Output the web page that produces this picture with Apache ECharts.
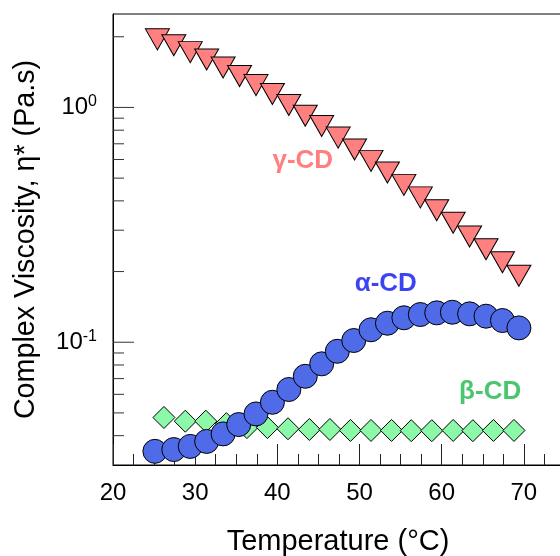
<!DOCTYPE html>
<html>
<head>
<meta charset="utf-8">
<script src="https://cdn.jsdelivr.net/npm/echarts@6/dist/echarts.min.js"></script>
<style>
html,body{margin:0;padding:0;overflow:hidden;background:#fff;width:560px;height:556px;}
#chart{width:606px;height:556px;}
</style>
</head>
<body>
<div id="chart"></div>
<script>
// ---- data ----
const gammaT = [25.4,27.4,29.4,31.4,33.4,35.4,37.4,39.4,41.4,43.4,45.4,47.4,49.4,51.4,53.4,55.4,57.4,59.4,61.4,63.4,65.4,67.4,69.4];
const gammaEta = [1.95,1.84,1.72,1.60,1.48,1.36,1.245,1.14,1.025,0.922,0.834,0.744,0.662,0.592,0.528,0.468,0.414,0.365,0.323,0.282,0.249,0.219,0.192];

const alphaT = [25.1,27.4,29.4,31.4,33.4,35.3,37.4,39.4,41.4,43.4,45.4,47.3,49.3,51.4,53.4,55.4,57.4,59.4,61.3,63.4,65.4,67.4,69.4];
const alphaEta = [0.0343,0.0349,0.0360,0.0378,0.0407,0.0446,0.0495,0.0555,0.0629,0.0716,0.0809,0.0915,0.1017,0.1130,0.1205,0.1271,0.1312,0.1334,0.1342,0.1321,0.1291,0.1237,0.1151];

const betaT = [26.2,28.8,31.3,33.8,36.3,38.8,41.3,43.9,46.4,48.9,51.4,53.9,56.3,58.8,61.4,63.8,66.3,68.8];
const betaEta = [0.0478,0.0461,0.0461,0.0450,0.0433,0.0433,0.0428,0.0425,0.0425,0.0421,0.0421,0.0421,0.0420,0.0420,0.0421,0.0420,0.0421,0.0421];

const seriesNames = ['γ-CD','α-CD','β-CD'];
// annotation anchors in data space [temperature, viscosity]
const annotT = [43.1, 53.2, 65.9];
const annotEta = [0.594, 0.178, 0.0613];

const xTickLabels = ['20','30','40','50','60','70'];
const yMajorTicks = [0.1, 1];
const yMinorTicks = [0.04,0.05,0.06,0.07,0.08,0.09,0.2,0.3,0.4,0.5,0.6,0.7,0.8,0.9,2];

const X_MIN = 20, X_MAX = 80, Y_MIN = 0.03, Y_MAX = 2.5;

const zip = (a, b) => a.map((v, i) => [v, b[i]]);

const font = "'Liberation Sans', Arial, Helvetica, sans-serif";

const tickData = yMajorTicks.map(v => [X_MIN, v, 1]).concat(yMinorTicks.map(v => [X_MIN, v, 0]));

const chart = echarts.init(document.getElementById('chart'), null, {renderer: 'canvas'});

chart.setOption({
  animation: false,
  backgroundColor: '#fff',
  grid: {
    left: 113, top: 14, right: 0, bottom: 91,
    show: true, borderColor: '#000', borderWidth: 1,
    containLabel: false, outerBoundsMode: 'none'
  },
  xAxis: {
    type: 'value', min: X_MIN, max: X_MAX, interval: 10,
    name: 'Temperature (°C)', nameLocation: 'middle', nameGap: 62,
    nameTextStyle: {fontFamily: font, fontSize: 29, color: '#000', padding: [0, 43, 0, 0]},
    axisLine: {show: true, onZero: false, lineStyle: {color: '#000', width: 1}},
    axisTick: {show: true, inside: true, length: 21, lineStyle: {color: '#222', width: 1}},
    minorTick: {show: true, splitNumber: 4, length: 11, lineStyle: {color: '#222', width: 1}},
    splitLine: {show: false},
    axisLabel: {
      fontFamily: font, fontSize: 24, color: '#000', margin: 16,
      formatter: v => xTickLabels.indexOf(String(v)) >= 0 ? String(v) : ''
    }
  },
  yAxis: {
    type: 'log', logBase: 10, min: Y_MIN, max: Y_MAX,
    name: 'Complex Viscosity, η* (Pa.s)', nameLocation: 'middle', nameGap: 72,
    nameTextStyle: {fontFamily: font, fontSize: 28.7, color: '#000'},
    axisLine: {show: true, onZero: false, lineStyle: {color: '#000', width: 1}},
    axisTick: {show: false},
    splitLine: {show: false},
    axisLabel: {
      margin: 16,
      formatter: v => {
        const e = Math.log10(v);
        const r = Math.round(e);
        if (Math.abs(e - r) > 1e-6) return '';
        if (!yMajorTicks.some(t => Math.abs(Math.log10(t) - r) < 1e-6)) return '';
        return '{b|10}{s|' + r + '}';
      },
      rich: {
        b: {fontFamily: font, fontSize: 24, color: '#000', lineHeight: 28},
        s: {fontFamily: font, fontSize: 16, color: '#000', verticalAlign: 'top', lineHeight: 28, padding: [0, 0, 12, 0]}
      }
    }
  },
  series: [
    {
      name: 'yTicks', type: 'custom', silent: true, clip: false, z: 5,
      data: tickData,
      encode: {x: 0, y: 1},
      renderItem: (params, api) => {
        const p = api.coord([api.value(0), api.value(1)]);
        const len = api.value(2) ? 21 : 11;
        return {type: 'line', shape: {x1: p[0], y1: p[1], x2: p[0] + len, y2: p[1]},
                style: {stroke: '#333', lineWidth: 1}};
      }
    },
    {
      name: seriesNames[2], type: 'scatter', data: zip(betaT, betaEta),
      symbol: 'diamond', symbolSize: [22, 22], z: 2,
      itemStyle: {color: '#8CF9A9', borderColor: '#000', borderWidth: 1, opacity: 1}
    },
    {
      name: seriesNames[1], type: 'scatter', data: zip(alphaT, alphaEta),
      symbol: 'circle', symbolSize: 24, z: 3,
      itemStyle: {color: '#4F6BE8', borderColor: '#000', borderWidth: 1, opacity: 1}
    },
    {
      name: seriesNames[0], type: 'scatter', data: zip(gammaT, gammaEta),
      symbol: 'triangle', symbolRotate: 180, symbolSize: [24, 21], z: 4,
      itemStyle: {color: '#FF8080', borderColor: '#000', borderWidth: 1, opacity: 1}
    },
    {
      name: 'labels', type: 'scatter', symbolSize: 0, silent: true, z: 6,
      data: seriesNames.map((n, i) => ({
        value: [annotT[i], annotEta[i]], name: n,
        label: {color: ['#FF5F5F', '#0A14F0', '#1DB84A'][i]}
      })),
      label: {
        show: true, position: 'inside', formatter: p => p.name,
        fontFamily: font, fontSize: 26, fontWeight: 'bold'
      }
    }
  ]
});
</script>
</body>
</html>
